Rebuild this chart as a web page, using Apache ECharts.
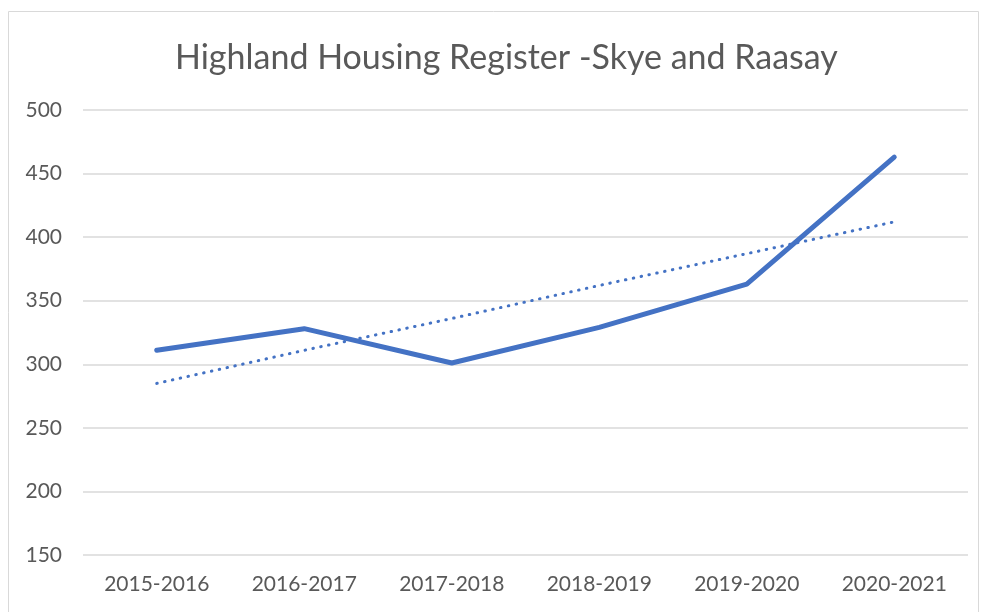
<!DOCTYPE html>
<html>
<head>
<meta charset="utf-8">
<script src="https://cdn.jsdelivr.net/npm/echarts@6/dist/echarts.min.js"></script>
<style>
  html, body { margin: 0; padding: 0; background: #fff; }
  #chart { width: 982px; height: 612px; }
</style>
</head>
<body>
<div id="chart"></div>
<script>
var categories = ['2015-2016', '2016-2017', '2017-2018', '2018-2019', '2019-2020', '2020-2021'];
var registerValues = [311, 328, 301, 329, 363, 463];
// linear trendline as drawn in the picture
var trendValues = [285, 311, 336, 362, 387, 412];
var yMin = 150, yMax = 500, yStep = 50;

var myChart = echarts.init(document.getElementById('chart'));
var font = 'Lato, "Open Sans", sans-serif';
var option = {
    animation: false,
    title: {
        text: 'Highland Housing Register -Skye and Raasay',
        left: 170,
        top: 36,
        textStyle: { color: '#595959', fontSize: 34, fontWeight: 'normal', fontFamily: font }
    },
    graphic: [{
        type: 'rect',
        shape: { x: 8.5, y: 11.5, width: 970, height: 620 },
        style: { fill: 'none', stroke: '#d9d9d9', lineWidth: 1 },
        silent: true
    }],
    grid: { left: 83, right: 14, top: 110, bottom: 57 },
    xAxis: {
        type: 'category',
        data: categories,
        boundaryGap: true,
        axisLine: { show: false },
        axisTick: { show: false },
        axisLabel: { color: '#595959', fontSize: 21, fontFamily: font, margin: 19 }
    },
    yAxis: {
        type: 'value',
        min: yMin,
        max: yMax,
        interval: yStep,
        axisLine: { show: false },
        axisTick: { show: false },
        axisLabel: { color: '#595959', fontSize: 21, fontFamily: font, margin: 21 },
        splitLine: { lineStyle: { color: '#d9d9d9', width: 1.5 } }
    },
    series: [
        {
            name: 'Register',
            type: 'line',
            data: registerValues,
            showSymbol: false,
            lineStyle: { color: '#4472c4', width: 5, cap: 'round', join: 'round' },
            z: 3
        },
        {
            name: 'Trend',
            type: 'line',
            data: trendValues,
            showSymbol: false,
            lineStyle: { color: '#4472c4', width: 3, type: [0.5, 7.5], cap: 'round' },
            z: 2
        }
    ]
};
myChart.setOption(option);
window.addEventListener('resize', myChart.resize);
</script>
</body>
</html>
